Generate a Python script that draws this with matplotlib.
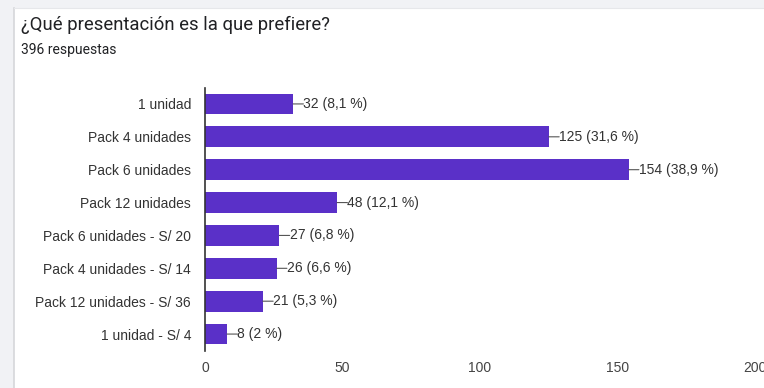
import matplotlib
matplotlib.use("Agg")
import matplotlib.pyplot as plt
from matplotlib.patches import Rectangle
from matplotlib.lines import Line2D

# ---------- data ----------
categories = [
    "1 unidad",
    "Pack 4 unidades",
    "Pack 6 unidades",
    "Pack 12 unidades",
    "Pack 6 unidades - S/ 20",
    "Pack 4 unidades - S/ 14",
    "Pack 12 unidades - S/ 36",
    "1 unidad - S/ 4",
]
counts = [32, 125, 154, 48, 27, 26, 21, 8]
percents = ["8,1", "31,6", "38,9", "12,1", "6,8", "6,6", "5,3", "2"]
xticks = [0, 50, 100, 150, 200]
total = 396

# ---------- palette ----------
BAR = "#5a30c8"
INK = "#202124"
LABEL = "#333333"
AXIS = "#333333"
FRAME_BG = "#f1f2f5"
FRAME_LINE = "#d6d7da"

W, H, DPI = 764, 388, 100
fig = plt.figure(figsize=(W / DPI, H / DPI), dpi=DPI)
fig.patch.set_facecolor("white")

# page strip around the card
fig.add_artist(Rectangle((0, 0), 14 / W, 1, transform=fig.transFigure,
                         facecolor=FRAME_BG, edgecolor="none", zorder=0))
fig.add_artist(Rectangle((0, 1 - 8 / H), 1, 8 / H, transform=fig.transFigure,
                         facecolor=FRAME_BG, edgecolor="none", zorder=0))
fig.add_artist(Line2D([14 / W, 14 / W], [0, 1 - 8 / H], transform=fig.transFigure,
                      color=FRAME_LINE, linewidth=1.2))
fig.add_artist(Line2D([14 / W, 1], [1 - 8 / H, 1 - 8 / H], transform=fig.transFigure,
                      color="#e6e7ea", linewidth=0.8))

# ---------- titles ----------
fig.text(21 / W, 1 - 25 / H, "¿Qué presentación es la que prefiere?",
         family="Roboto", fontsize=13.3, color=INK, va="center", ha="left")
fig.text(21 / W, 1 - 50 / H, f"{total} respuestas",
         family="Roboto", fontsize=10, color=INK, va="center", ha="left")

# ---------- bars ----------
x0, x1 = 205 / W, 755 / W
y_top, y_bot = 87.5 / H, 350.5 / H
ax = fig.add_axes([x0, 1 - y_bot, x1 - x0, y_bot - y_top])
ax.set_facecolor("none")

ypos = list(range(len(categories)))
ax.barh(ypos, counts, height=0.63, color=BAR, edgecolor="none", zorder=2)
ax.set_ylim(len(categories) - 0.5, -0.5)
ax.set_xlim(0, 200)

for y, c, p in zip(ypos, counts, percents):
    ax.annotate("", xy=(c, y), xytext=(7.5, 0), textcoords="offset points",
                arrowprops=dict(arrowstyle="-", color="#555555", lw=0.8,
                                shrinkA=0, shrinkB=0))
    ax.annotate(f"{c} ({p} %)", xy=(c, y), xytext=(7.5, 0), textcoords="offset points",
                family="Liberation Sans", fontsize=10, color=LABEL,
                va="center", ha="left")

ax.set_yticks(ypos)
ax.set_yticklabels(categories, family="Liberation Sans", fontsize=10, color=LABEL)
ax.set_xticks(xticks)
ax.set_xticklabels([str(t) for t in xticks], family="Liberation Sans",
                   fontsize=10, color="#444444")
ax.tick_params(axis="y", length=0, pad=10)
ax.tick_params(axis="x", length=0, pad=7.5)

for s in ("top", "right", "bottom"):
    ax.spines[s].set_visible(False)
ax.spines["left"].set_color(AXIS)
ax.spines["left"].set_linewidth(1.2)
ax.spines["left"].set_zorder(3)

fig.savefig("out.png", dpi=DPI, facecolor=fig.get_facecolor())
